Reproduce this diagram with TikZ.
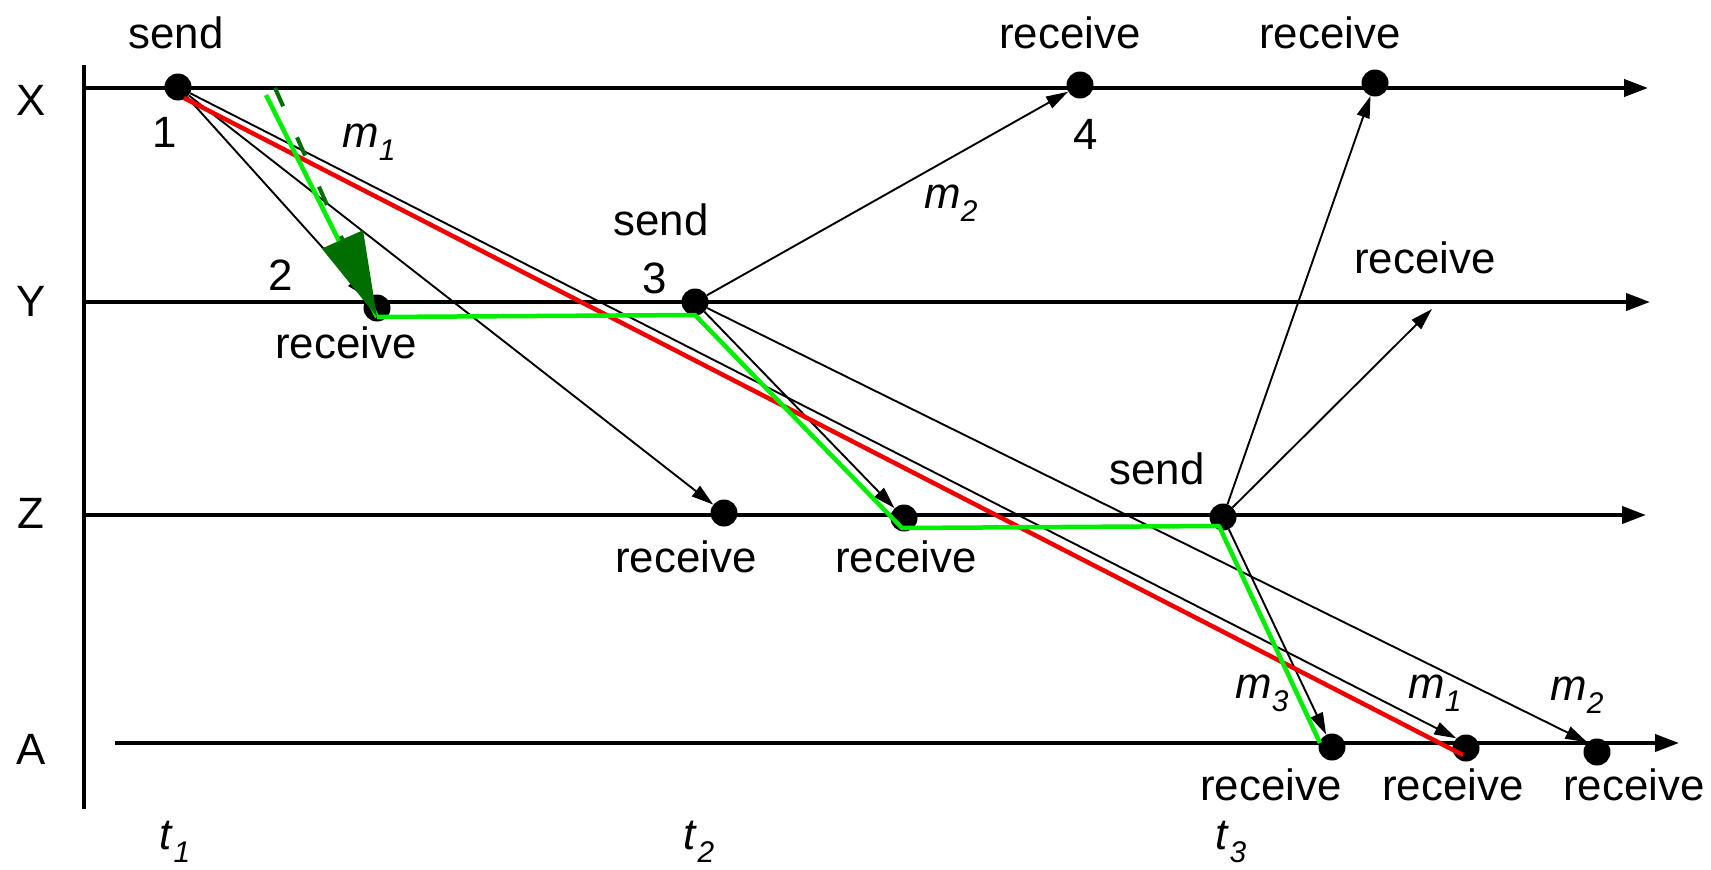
\documentclass[tikz,border=0pt]{standalone}
\usepackage{fontspec}
\setmainfont{Liberation Sans}
\usetikzlibrary{arrows.meta,calc}
\definecolor{cG}{HTML}{00EE00}
\definecolor{cK}{HTML}{006E00}
\definecolor{cR}{HTML}{F00000}
\newcommand\lblsize{\fontsize{44}{48}\selectfont}
\newcommand\msgname[2]{\textit{#1}\raisebox{-.3em}{\fontsize{30}{30}\selectfont\textit{#2}}}
\tikzset{
  dot/.style={circle,fill=black,inner sep=0pt,minimum size=27bp},
  lbl/.style={inner sep=0pt,font=\lblsize},
  timeline/.style={line width=4bp,-{Triangle[length=24bp,width=17bp]}},
  msgline/.style={line width=1.9bp,-{Triangle[length=22bp,width=13bp]}},
  cutline/.style={line width=4.5bp,cG,line join=round},
  redline/.style={line width=4.5bp,cR},
  hintarrow/.style={line width=4bp,cK,dash pattern=on 20bp off 34bp,
                    -{Triangle[length=85bp,width=44bp]}},
}

\begin{document}
\begin{tikzpicture}[x=1bp,y=-1bp]
  \useasboundingbox (0,0) rectangle (1711,869);
  % time axis and process lines
  \coordinate (ax0) at (84,65);
  \coordinate (ax1) at (84,809);
  \draw[line width=4bp] (ax0) -- (ax1);
  \foreach \n/\y/\xa/\xb/\ly in {X/88/84/1648/100, Y/302/84/1650/301,
                                 Z/515/84/1646/513, A/743/115/1679/749}{
    \coordinate (\n s) at (\xa,\y);
    \coordinate (\n e) at (\xb,\y);
    \draw[timeline] (\n s) -- (\n e);
    \node[lbl] (lab\n) at (31,\ly) {\n};
  }
  \foreach \n/\x/\i in {t1/175/1, t2/699/2, t3/1231/3}
    \node[lbl] (\n) at (\x,842) {\msgname{t}{\i}};

  % events
  \foreach \n/\x/\y in {x1/178/87, y2/377/308, y3/695/302, x4/1080/85,
                        x5/1375/83, z1/724/513, z2/904/518, z3/1223/517,
                        a1/1332/747, a2/1466/748, a3/1597/752}
    \node[dot] (\n) at (\x,\y) {};
  \coordinate (yf) at (1432,309);

  % messages
  \foreach \s/\t in {x1/y2, x1/z1, x1/a2.north west, y3/x4, y3/z2,
                     y3/a3.north west, z3/x5, z3/yf, z3/a1}
    \draw[msgline] (\s) -- (\t);

  % labels
  \foreach \n/\x/\y/\t in {s1/176/33/send, n1/165/132/1, n2/281/275/2,
                           r2/346/343/receive, s3/661/220/send, n3/655/278/3,
                           r4/1070/33/receive, n4/1086/134/4, r5/1330/33/receive,
                           ry/1425/258/receive, s9/1157/469/send,
                           rz1/686/557/receive, rz2/906/557/receive,
                           ra1/1271/785/receive, ra2/1453/785/receive,
                           ra3/1634/785/receive}
    \node[lbl] (\n) at (\x,\y) {\t};
  \foreach \n/\x/\y/\i in {m1/369/142/1, m2/951/203/2, m3/1262/693/3,
                           m4/1435/693/1, m5/1577/695/2}
    \node[lbl] (\n) at (\x,\y) {\msgname{m}{\i}};

  % consistent cut and inconsistent cut
  \coordinate (r0) at (184,98);
  \coordinate (r1) at (1463,755);
  \draw[redline] (r0) -- (r1);
  \coordinate (g0) at (377,317);
  \coordinate (g1) at (695,315);
  \coordinate (g2) at (902,528);
  \coordinate (g3) at (1219,526);
  \coordinate (g4) at (1320,743);
  \draw[cutline] (g0) -- (g1) -- (g2) -- (g3) -- (g4);
  \coordinate (ga) at (266,95);
  \coordinate (gb) at (275,88);
  \draw[cutline] (ga) -- (g0);
  \draw[hintarrow] (gb) -- (g0);
\end{tikzpicture}
\end{document}
